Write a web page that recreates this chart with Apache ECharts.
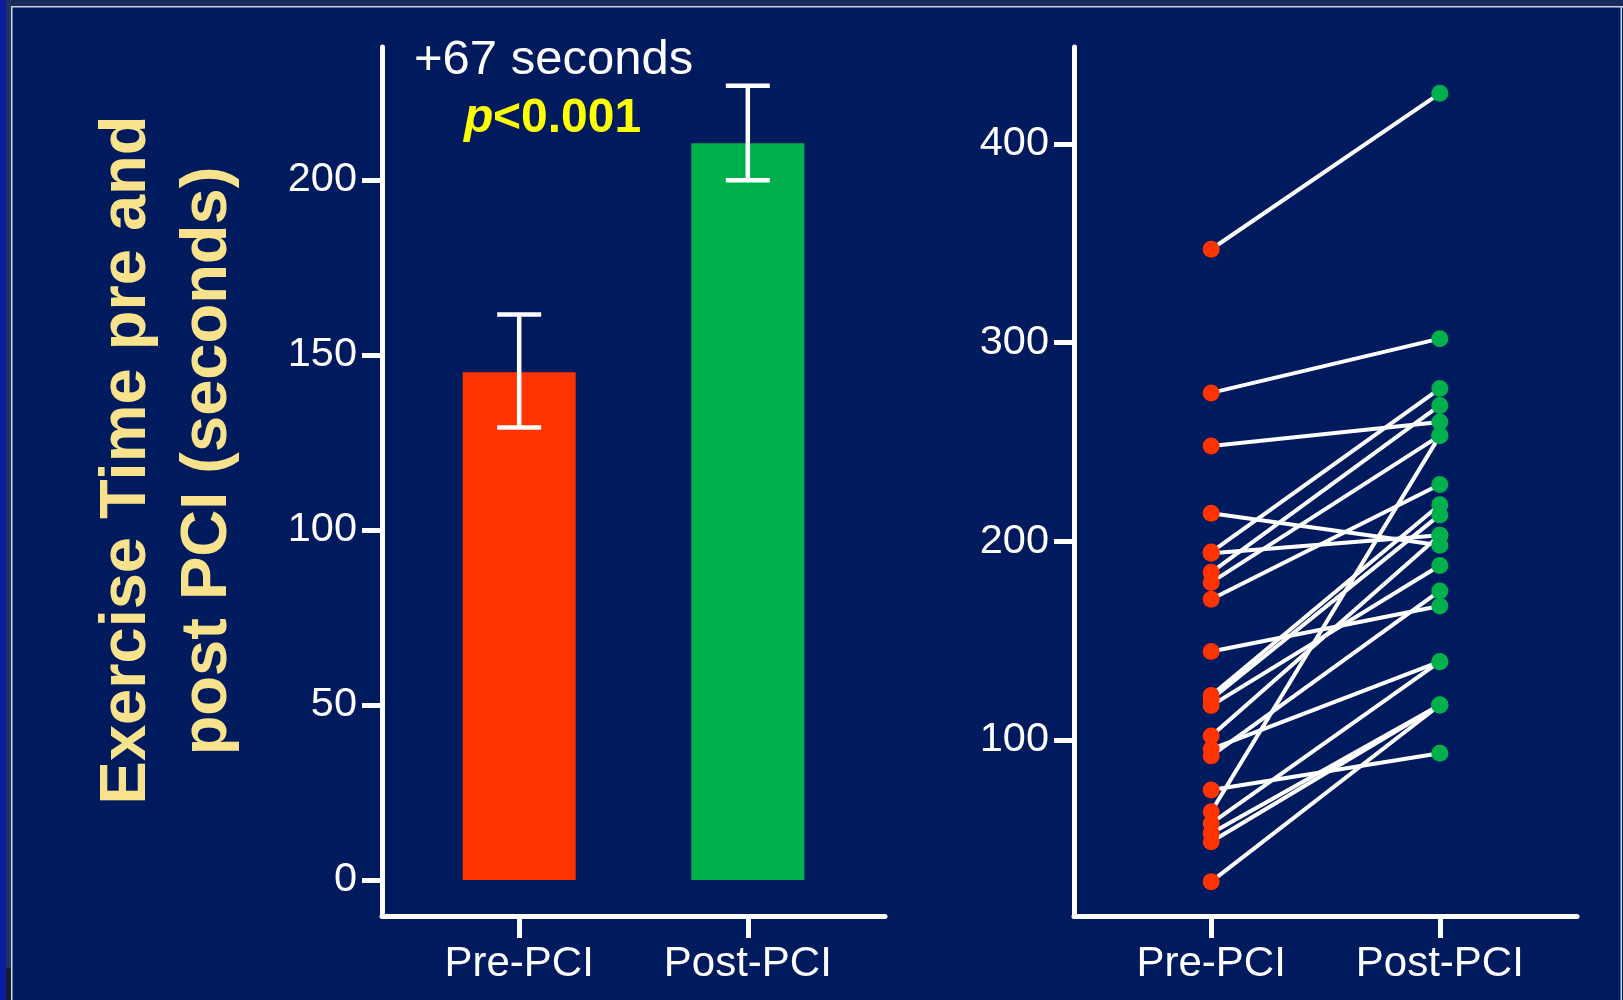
<!DOCTYPE html>
<html>
<head>
<meta charset="utf-8">
<script src="https://cdn.jsdelivr.net/npm/echarts@6/dist/echarts.min.js"></script>
<style>
html,body{margin:0;padding:0;background:#001A5E;overflow:hidden;}
#c{width:1623px;height:1000px;}
</style>
</head>
<body>
<div id="c"></div>
<script>
// ---------- data ----------
const categories = ['Pre-PCI', 'Post-PCI'];
const barMeans = [145.1, 210.5];
const errLow = [129.3, 199.9];
const errHigh = [161.6, 226.9];
const leftTicks = [0, 50, 100, 150, 200];
const rightTicks = [100, 200, 300, 400];
const preValues = [347, 274.7, 248, 214.1, 194.6, 194, 184.4, 179.3, 170.8, 144.5, 122.4,
                   120.5, 117.3, 102, 95.4, 92, 74.8, 63.9, 58, 53, 48.8, 28.7];
const postValues = [425.5, 302, 260, 198, 276.9, 203.1, 268.4, 253.2, 228.6, 167.4, 218.4,
                    213.3, 187.8, 203.1, 139.4, 175, 93.3, 253.2, 139.4, 117.6, 117.6, 117.6];
const changeText = '+67 seconds';
const pText = '<0.001';
const yTitleLines = ['Exercise Time pre and', 'post PCI (seconds)'];

// ---------- styles ----------
const FONT = '"Liberation Sans", Arial, sans-serif';
const WHITE = '#FFFFFF';
const RED = '#FF3300';
const GREEN = '#00B04C';
const TITLE = '#F8E38C';
const barColors = [RED, GREEN];

const chart = echarts.init(document.getElementById('c'), null, {renderer: 'canvas'});

function xAxisCfg(gridIndex) {
  return {
    type: 'value', gridIndex, min: -0.6, max: 1.6,
    axisLine: {show: true, onZero: false, lineStyle: {color: WHITE, width: 5}},
    axisTick: {show: true, customValues: [0, 1], length: 22, lineStyle: {color: WHITE, width: 5}},
    axisLabel: {show: true, customValues: [0, 1], margin: 27, lineHeight: 42,
      formatter: v => categories[Math.round(v)] || '',
      color: WHITE, fontSize: 42, fontFamily: FONT},
    splitLine: {show: false}
  };
}
function yAxisCfg(gridIndex, min, max, ticks, margin) {
  return {
    type: 'value', gridIndex, min, max,
    axisLine: {show: true, onZero: false, lineStyle: {color: WHITE, width: 5}},
    axisTick: {show: true, customValues: ticks, length: 20, lineStyle: {color: WHITE, width: 5}},
    axisLabel: {show: true, customValues: ticks, margin, color: WHITE, fontSize: 41.5, fontFamily: FONT},
    splitLine: {show: false}
  };
}

const series = [];
series.push({
  type: 'bar', xAxisIndex: 0, yAxisIndex: 0, barWidth: 113,
  data: barMeans.map((v, i) => ({value: [i, v], itemStyle: {color: barColors[i]}})),
  z: 2
});
series.push({
  type: 'custom', xAxisIndex: 0, yAxisIndex: 0, z: 3,
  data: barMeans.map((v, i) => [i, errLow[i], errHigh[i]]),
  renderItem: (params, api) => {
    const x = api.value(0), lo = api.value(1), hi = api.value(2);
    const top = api.coord([x, hi]), bot = api.coord([x, lo]);
    const hw = 22;
    const st = {stroke: WHITE, lineWidth: 4.5};
    return {type: 'group', children: [
      {type: 'line', shape: {x1: top[0], y1: top[1], x2: bot[0], y2: bot[1]}, style: st},
      {type: 'line', shape: {x1: top[0] - hw, y1: top[1], x2: top[0] + hw, y2: top[1]}, style: st},
      {type: 'line', shape: {x1: bot[0] - hw, y1: bot[1], x2: bot[0] + hw, y2: bot[1]}, style: st}
    ]};
  }
});
preValues.forEach((pre, i) => {
  series.push({
    type: 'line', xAxisIndex: 1, yAxisIndex: 1, symbol: 'none', showSymbol: false,
    data: [[0, pre], [1, postValues[i]]],
    lineStyle: {color: WHITE, width: 4}, z: 2, silent: true
  });
});
series.push({
  type: 'scatter', xAxisIndex: 1, yAxisIndex: 1, symbolSize: 17, z: 4,
  itemStyle: {color: RED, opacity: 1},
  data: preValues.map(v => [0, v])
});
series.push({
  type: 'scatter', xAxisIndex: 1, yAxisIndex: 1, symbolSize: 17, z: 4,
  itemStyle: {color: GREEN, opacity: 1},
  data: postValues.map(v => [1, v])
});

function txt(x, y, text, font, fill, align, rotation) {
  return {type: 'text', x, y, rotation: rotation || 0, z: 10,
    style: {text, font, fill, align: align || 'left', textAlign: align || 'left',
      verticalAlign: 'middle', textVerticalAlign: 'middle'}};
}

const graphic = [
  // slide frame
  {type: 'rect', shape: {x: 0, y: 0, width: 6, height: 1000}, style: {fill: '#0B1C9C'}, z: 1},
  {type: 'rect', shape: {x: 6, y: 0, width: 5, height: 968}, style: {fill: '#23335F'}, z: 1},
  {type: 'rect', shape: {x: 6, y: 968, width: 5, height: 32}, style: {fill: '#161C2E'}, z: 1},
  {type: 'rect', shape: {x: 11, y: 0, width: 1612, height: 6}, style: {fill: '#18295A'}, z: 1},
  {type: 'line', shape: {x1: 11.75, y1: 6, x2: 11.75, y2: 1000}, style: {stroke: '#D3D9E6', lineWidth: 1.5}, z: 1},
  {type: 'line', shape: {x1: 11, y1: 6.75, x2: 1623, y2: 6.75}, style: {stroke: '#C9CFDD', lineWidth: 1.5}, z: 1},
  {type: 'line', shape: {x1: 1621.25, y1: 6, x2: 1621.25, y2: 1000}, style: {stroke: '#C9CFDD', lineWidth: 1.5}, z: 1},
  // annotations
  txt(414, 60, changeText, '49px ' + FONT, WHITE, 'left'),
  txt(464, 119, 'p', 'italic bold 48px ' + FONT, '#FFFF00', 'left'),
  txt(493, 119, pText, 'bold 48px ' + FONT, '#FFFF00', 'left'),
  // y title
  txt(127, 460, yTitleLines[0], 'bold 65px ' + FONT, TITLE, 'center', Math.PI / 2),
  txt(208, 461, yTitleLines[1], 'bold 65px ' + FONT, TITLE, 'center', Math.PI / 2)
];

chart.setOption({
  backgroundColor: '#001A5E',
  animation: false,
  grid: [
    {left: 382, top: 47, width: 503, height: 869},
    {left: 1074, top: 47, width: 503, height: 869}
  ],
  xAxis: [xAxisCfg(0), xAxisCfg(1)],
  yAxis: [yAxisCfg(0, -10.3, 238, leftTicks, 25), yAxisCfg(1, 11.4, 448.8, rightTicks, 25)],
  series,
  graphic
});
</script>
</body>
</html>
